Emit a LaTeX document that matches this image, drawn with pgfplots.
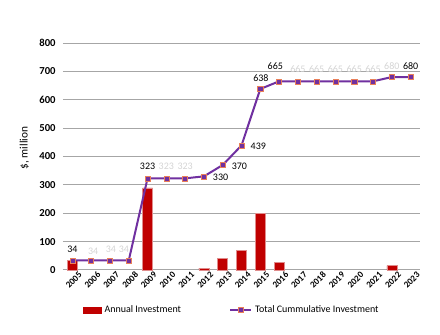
\documentclass[border=0pt]{standalone}
\usepackage{pgfplots}
\pgfplotsset{compat=1.18}
\usepackage{fontspec}
\setmainfont{Carlito}
\definecolor{barred}{HTML}{C00000}
\definecolor{baredge}{HTML}{E08C8C}
\definecolor{linepurple}{HTML}{7030A0}
\definecolor{mkorange}{HTML}{E9805A}
\definecolor{gridgray}{HTML}{A6A6A6}
\definecolor{lbgray}{HTML}{D4D4D4}
\pgfplotsset{
  mybarlegend/.style={legend image code/.code={\fill[barred] (0pt,-2.2pt) rectangle (13.5pt,2.2pt);}},
  mylinelegend/.style={legend image code/.code={\draw[##1, mark repeat=2, mark phase=2] plot coordinates {(0pt,0pt) (8pt,0pt) (16pt,0pt)};}},
}
\begin{document}
\begin{tikzpicture}
\useasboundingbox (0,0) rectangle (330pt,251.25pt);
\begin{axis}[
  at={(47.25pt,48.75pt)}, anchor=south west,
  scale only axis, width=267.75pt, height=170.25pt,
  xmin=-0.5, xmax=18.5, ymin=0, ymax=800,
  xtick={0,...,18},
  xticklabels={2005,2006,2007,2008,2009,2010,2011,2012,2013,2014,2015,2016,2017,2018,2019,2020,2021,2022,2023},
  ytick={0,100,...,800},
  ymajorgrids, grid style={gridgray, line width=0.75pt},
  axis x line*=bottom, axis y line*=left,
  x axis line style={gridgray, line width=0.75pt, -},
  y axis line style={draw=none},
  major tick length=0pt,
  /pgf/number format/assume math mode=true,
  x tick label style={rotate=45, anchor=north east, font=\fontsize{6.8}{8}\selectfont\bfseries, inner sep=0.5pt, xshift=3pt, yshift=-3pt},
  y tick label style={font=\fontsize{8}{9}\selectfont\bfseries, xshift=-2pt},
  ylabel={\$, million},
  ylabel style={at={(axis description cs:-0.108,0.537)}, anchor=center, font=\fontsize{8.5}{10}\selectfont},
  legend columns=2,
  legend style={at={(axis description cs:0.045,-0.176)}, anchor=west, draw=none, fill=none,
    font=\fontsize{7.5}{9}\selectfont,
    /tikz/every even column/.append style={column sep=34pt}},
  clip=false,
]
\addplot[ybar, bar width=7.5pt, fill=barred, draw=baredge, line width=0.4pt, mybarlegend]
  coordinates {(0,34) (4,289) (7,7) (8,40) (9,69) (10,199) (11,27) (17,15)};
\addlegendentry{Annual Investment}
\addplot[linepurple, line width=1.5pt, mark=square*, mark size=1.9pt,
  mark options={fill=linepurple, draw=mkorange, line width=0.4pt}, mylinelegend]
  coordinates {(0,34) (1,34) (2,34) (3,34) (4,323) (5,323) (6,323) (7,330) (8,370) (9,439) (10,638) (11,665) (12,665) (13,665) (14,665) (15,665) (16,665) (17,680) (18,680)};
\addlegendentry{Total Cummulative Investment}
\tikzset{dl/.style={font=\fontsize{7.5}{9}\selectfont, inner sep=0pt, anchor=center}}
% black labels
\node[dl] at (axis cs:0,34) [yshift=8.3pt] {34};
\node[dl] at (axis cs:4,323) [yshift=8.7pt] {323};
\node[dl] at (axis cs:7,330) [xshift=12.5pt, yshift=-1pt] {330};
\node[dl] at (axis cs:8,370) [xshift=12.5pt, yshift=-1.3pt] {370};
\node[dl] at (axis cs:9,439) [xshift=12.6pt, yshift=-1pt] {439};
\node[dl] at (axis cs:10,638) [xshift=0.5pt, yshift=8.5pt] {638};
\node[dl] at (axis cs:11,665) [xshift=-2.8pt, yshift=11.7pt] {665};
\node[dl] at (axis cs:18,680) [yshift=8.5pt] {680};
% light labels
\node[dl, lbgray] at (axis cs:1,34) [xshift=1.5pt, yshift=7pt] {34};
\node[dl, lbgray] at (axis cs:2,34) [xshift=0.7pt, yshift=8.3pt] {34};
\node[dl, lbgray] at (axis cs:3,34) [xshift=-3.7pt, yshift=8.3pt] {34};
\node[dl, lbgray] at (axis cs:5,323) [yshift=8.7pt] {323};
\node[dl, lbgray] at (axis cs:6,323) [yshift=8.7pt] {323};
\node[dl, lbgray] at (axis cs:12,665) [yshift=9pt] {665};
\node[dl, lbgray] at (axis cs:13,665) [yshift=9pt] {665};
\node[dl, lbgray] at (axis cs:14,665) [yshift=9pt] {665};
\node[dl, lbgray] at (axis cs:15,665) [yshift=9pt] {665};
\node[dl, lbgray] at (axis cs:16,665) [yshift=9pt] {665};
\node[dl, lbgray] at (axis cs:17,680) [yshift=8.5pt] {680};
\end{axis}
\end{tikzpicture}
\end{document}
